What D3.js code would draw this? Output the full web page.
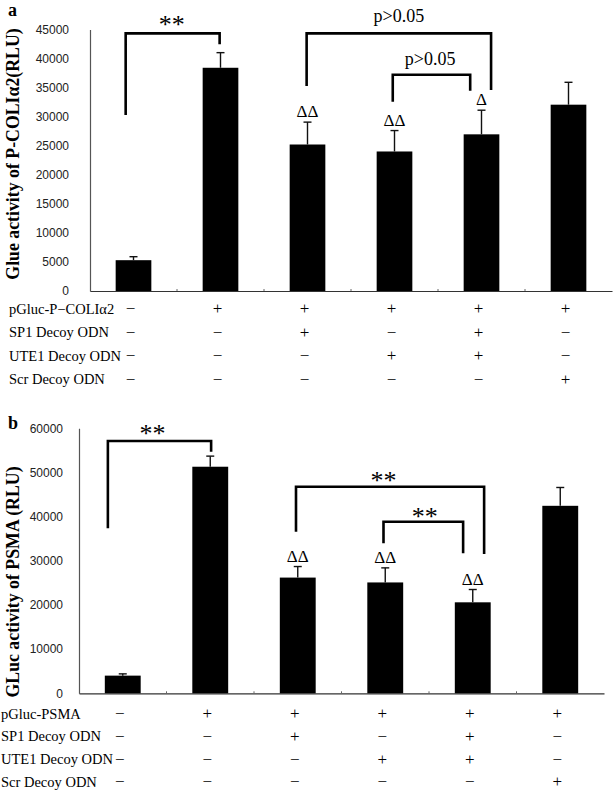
<!DOCTYPE html>
<html>
<head>
<meta charset="utf-8">
<script src="https://cdn.jsdelivr.net/npm/d3@7/dist/d3.min.js"></script>
<style>
  html, body { margin: 0; padding: 0; background: #fff; }
  svg { display: block; }
</style>
</head>
<body>
<script>
// ---------------- DATA ----------------
const groups = ["G1", "G2", "G3", "G4", "G5", "G6"];

// Panel a
const valuesA = [5300, 38400, 25200, 24000, 26950, 32050];
const errorsA = [600, 2600, 3850, 3600, 4150, 3850];
const ticksA = [0, 5000, 10000, 15000, 20000, 25000, 30000, 35000, 40000, 45000];
const marksA = ["", "", "ΔΔ", "ΔΔ", "Δ", ""];
const rowLabelsA = ["pGluc-P−COLIα2", "SP1 Decoy ODN", "UTE1 Decoy ODN", "Scr Decoy ODN"];
const yLabelA = "Glue activity of P-COLIα2(RLU)";
// brackets: [left index, right index, top value, left-end value, right-end value, label, label index, label baseline value]
const bracketsA = [
  [-0.09, 0.99, 44320, 30270, 42430, "**", 0.44, 44380],
  [1.99, 4.11, 44320, 35260, 34570, "p>0.05", 3.05, 46330],
  [2.98, 3.87, 37200, 32560, 34450, "p>0.05", 3.41, 38880]
];

// Panel b
const valuesB = [4000, 51300, 26200, 25100, 20600, 42450];
const errorsB = [400, 2400, 2500, 3300, 2900, 4150];
const ticksB = [0, 10000, 20000, 30000, 40000, 50000, 60000];
const marksB = ["", "", "ΔΔ", "ΔΔ", "ΔΔ", ""];
const rowLabelsB = ["pGluc-PSMA", "SP1 Decoy ODN", "UTE1 Decoy ODN", "Scr Decoy ODN"];
const yLabelB = "GLuc activity of PSMA (RLU)";
const bracketsB = [
  [-0.17, 1.01, 57120, 37360, 54700, "**", 0.34, 56890],
  [1.98, 4.13, 46770, 36590, 31540, "**", 2.98, 46320],
  [2.98, 3.89, 38850, 33960, 31700, "**", 3.45, 38130]
];

// treatment matrix (rows: constructs, columns: groups)
const signs = [
  ["−", "+", "+", "+", "+", "+"],
  ["−", "−", "+", "−", "+", "−"],
  ["−", "−", "−", "+", "+", "−"],
  ["−", "−", "−", "−", "−", "+"]
];

// ---------------- DRAWING ----------------
const W = 614, H = 790;
const SERIF = "'Liberation Serif', 'Times New Roman', serif";
const SANS = "'Liberation Sans', Arial, sans-serif";

const svg = d3.select("body").append("svg")
  .attr("width", W).attr("height", H)
  .attr("viewBox", `0 0 ${W} ${H}`);

function drawPanel(p) {
  const g = svg.append("g");
  const x = d3.scaleBand().domain(groups).range([p.x0, p.x1])
    .paddingInner(0.59).paddingOuter(0.295);
  const cx = i => x(groups[i]) + x.bandwidth() / 2;
  const pos = d3.scaleLinear().domain([0, groups.length - 1]).range([cx(0), cx(groups.length - 1)]);
  const y = d3.scaleLinear().domain([0, p.max]).range([p.y0, p.y1]);

  // panel letter
  g.append("text").attr("x", p.letterX).attr("y", p.letterY)
    .attr("font-family", SERIF).attr("font-weight", "bold").attr("font-size", 18)
    .text(p.letter);

  // y axis
  const yAxis = d3.axisLeft(y).tickValues(p.ticks).tickSize(0).tickSizeOuter(0)
    .tickPadding(p.tickPad).tickFormat(d3.format("d"));
  const ya = g.append("g").attr("transform", `translate(${p.x0},0)`).call(yAxis);
  ya.select(".domain").attr("stroke", "#555").attr("stroke-width", 1.2);
  ya.selectAll("text").attr("font-family", SANS).attr("font-size", 12).attr("fill", "#222");

  // y label
  g.append("text")
    .attr("transform", `translate(${p.labelX},${p.labelY}) rotate(-90)`)
    .attr("text-anchor", "middle")
    .attr("font-family", SERIF).attr("font-weight", "bold").attr("font-size", 17.8)
    .text(p.yLabel);

  // x axis
  const xa = d3.axisBottom(x).tickSize(0).tickSizeOuter(0).tickFormat("");
  const xg = g.append("g").attr("transform", `translate(0,${p.y0})`).call(xa);
  xg.select(".domain").attr("stroke", "#333").attr("stroke-width", 1.2);
  // small boundary ticks
  g.selectAll(".bt").data(groups.slice(1)).join("line")
    .attr("x1", d => x(d) - x.step() * 0.295).attr("x2", d => x(d) - x.step() * 0.295)
    .attr("y1", p.y0).attr("y2", p.y0 - 2)
    .attr("stroke", "#666").attr("stroke-width", 1);

  // bars
  g.selectAll(".bar").data(p.values).join("rect")
    .attr("x", (d, i) => x(groups[i]))
    .attr("y", d => y(d))
    .attr("width", x.bandwidth())
    .attr("height", d => y(0) - y(d))
    .attr("fill", "#000");

  // error bars (upper)
  const eg = g.append("g").attr("stroke", "#111").attr("stroke-width", 1.4);
  p.values.forEach((v, i) => {
    const top = y(v + p.errors[i]);
    eg.append("line").attr("x1", cx(i)).attr("x2", cx(i)).attr("y1", y(v)).attr("y2", top);
    eg.append("line").attr("x1", cx(i) - 4).attr("x2", cx(i) + 4).attr("y1", top).attr("y2", top);
  });

  // significance marks above bars
  g.selectAll(".mk").data(p.marks).join("text")
    .attr("x", (d, i) => cx(i))
    .attr("y", (d, i) => y(p.values[i] + p.errors[i]) - 5)
    .attr("text-anchor", "middle")
    .attr("font-family", SERIF).attr("font-size", 17)
    .text(d => d);

  // brackets
  p.brackets.forEach(b => {
    const [li, ri, top, lb, rb, lab, labI, labV] = b;
    g.append("path")
      .attr("d", `M${pos(li)},${y(lb)}V${y(top)}H${pos(ri)}V${y(rb)}`)
      .attr("fill", "none").attr("stroke", "#000").attr("stroke-width", 2.6);
    const isStar = lab === "**";
    g.append("text").attr("x", pos(labI)).attr("y", y(labV))
      .attr("text-anchor", "middle")
      .attr("font-family", SERIF)
      .attr("font-size", isStar ? 26 : 18)
      .text(lab);
  });

  // treatment table
  p.rowLabels.forEach((lab, r) => {
    const ry = p.rowY0 + r * p.rowStep;
    g.append("text").attr("x", p.rowLabelX).attr("y", ry)
      .attr("dominant-baseline", "central")
      .attr("font-family", SERIF).attr("font-size", 14.5)
      .text(lab);
    signs[r].forEach((s, i) => {
      g.append("text").attr("x", cx(i) - 3).attr("y", ry)
        .attr("dominant-baseline", "central").attr("text-anchor", "middle")
        .attr("font-family", SERIF).attr("font-size", 17)
        .text(s);
    });
  });
}

drawPanel({
  letter: "a", letterX: 8, letterY: 16,
  x0: 90, x1: 612, y0: 291, y1: 29.4, max: 45000,
  ticks: ticksA, tickPad: 21, values: valuesA, errors: errorsA, marks: marksA,
  brackets: bracketsA, rowLabels: rowLabelsA, yLabel: yLabelA,
  labelX: 19, labelY: 154,
  rowY0: 308.5, rowStep: 23.5, rowLabelX: 9
});

drawPanel({
  letter: "b", letterX: 8, letterY: 429,
  x0: 79, x1: 604, y0: 693.3, y1: 428.3, max: 60000,
  ticks: ticksB, tickPad: 16, values: valuesB, errors: errorsB, marks: marksB,
  brackets: bracketsB, rowLabels: rowLabelsB, yLabel: yLabelB,
  labelX: 19, labelY: 582,
  rowY0: 713.5, rowStep: 22.8, rowLabelX: 1
});
</script>
</body>
</html>
